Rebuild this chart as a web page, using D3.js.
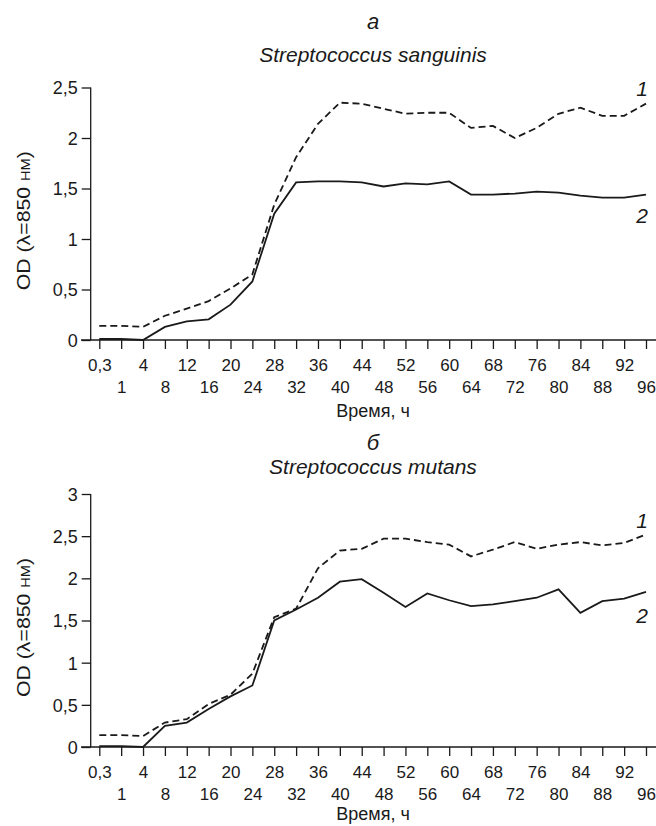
<!DOCTYPE html>
<html><head><meta charset="utf-8">
<script src="https://cdn.jsdelivr.net/npm/d3@7"></script>
<style>
body{margin:0;background:#fff;}
text{font-family:"Liberation Sans",Arial,Helvetica,sans-serif;fill:#1a1a1a;}
</style></head>
<body><svg id="c" width="656" height="826"></svg>
<script>
const categories = ["0,3","1","4","8","12","16","20","24","28","32","36","40","44","48","52","56","60","64","68","72","76","80","84","88","92","96"];
const sanguinis1 = [0.14,0.14,0.13,0.24,0.31,0.385,0.51,0.65,1.34,1.81,2.14,2.35,2.34,2.29,2.24,2.25,2.25,2.10,2.12,2.00,2.10,2.24,2.30,2.22,2.22,2.34];
const sanguinis2 = [0.01,0.01,0.00,0.13,0.185,0.205,0.35,0.58,1.25,1.56,1.57,1.57,1.56,1.52,1.55,1.54,1.57,1.44,1.44,1.45,1.47,1.46,1.43,1.41,1.41,1.44];
const mutans1 = [0.14,0.14,0.13,0.29,0.33,0.51,0.62,0.87,1.54,1.64,2.12,2.33,2.35,2.47,2.47,2.43,2.40,2.26,2.34,2.43,2.35,2.40,2.43,2.39,2.42,2.52];
const mutans2 = [0.01,0.01,0.00,0.25,0.29,0.45,0.60,0.73,1.50,1.63,1.77,1.96,1.99,1.83,1.66,1.82,1.74,1.67,1.69,1.73,1.77,1.87,1.59,1.73,1.76,1.84];
const ticksTop = [0,0.5,1,1.5,2,2.5];
const ticksBottom = [0,0.5,1,1.5,2,2.5,3];
const panelLetters = ["а","б"];
const panelTitles = ["Streptococcus sanguinis","Streptococcus mutans"];
const xTitle = "Время, ч";

const svg = d3.select("#c");
const fmt = v => String(v).replace(".", ",");

const x = d3.scalePoint().domain(categories).range([99.3, 646]);

function panel(cfg){
  const g = svg.append("g");
  const y = d3.scaleLinear().domain([0, cfg.ymax]).range([cfg.y0, cfg.yTop]);
  // titles
  g.append("text").attr("x",373).attr("y",cfg.letterY).attr("text-anchor","middle")
    .attr("font-size",22).attr("font-style","italic").text(cfg.letter);
  g.append("text").attr("x",373).attr("y",cfg.titleY).attr("text-anchor","middle")
    .attr("font-size",21).attr("font-style","italic").text(cfg.title);
  // y axis
  const ya = d3.axisLeft(y).tickValues(cfg.ticks).tickSize(9).tickPadding(4).tickFormat(fmt);
  const yg = g.append("g").attr("transform",`translate(90.7,0)`).call(ya);
  yg.select(".domain").attr("d",`M0,${y(cfg.ymax)}V${y(0)}`).attr("stroke","#1a1a1a").attr("stroke-width",1.3);
  yg.selectAll(".tick line").attr("stroke","#1a1a1a").attr("stroke-width",1.3);
  yg.selectAll(".tick text").attr("font-size",18).attr("dy","0.36em").style("font-family",'"Liberation Sans",Arial,sans-serif').attr("fill","#1a1a1a");
  // x axis
  const xa = d3.axisBottom(x).tickSize(9).tickPadding(0).tickFormat(()=> "");
  const xg = g.append("g").attr("transform",`translate(0,${cfg.y0})`).call(xa);
  xg.select(".domain").attr("d",`M81,0H656`).attr("stroke","#1a1a1a").attr("stroke-width",1.3);
  xg.selectAll(".tick line").attr("stroke","#1a1a1a").attr("stroke-width",1.3);
  xg.selectAll(".tick").append("text")
    .attr("y",(d,i)=> i%2===0 ? 31 : 53)
    .attr("text-anchor","middle").attr("font-size",17).attr("fill","#1a1a1a")
    .style("font-family",'"Liberation Sans",Arial,sans-serif')
    .text(d=>d);
  g.append("text").attr("x",373).attr("y",cfg.y0+cfg.xtOff).attr("text-anchor","middle")
    .attr("font-size",18).text(xTitle);
  // y title
  const yt = g.append("text").attr("transform",`translate(30,${(cfg.y0+cfg.yTop)/2+7}) rotate(-90)`)
    .attr("text-anchor","middle").attr("font-size",19)
    .attr("textLength",139).attr("lengthAdjust","spacingAndGlyphs");
  yt.append("tspan").text("OD (λ=850 ");
  yt.append("tspan").attr("font-size",13).text("НМ");
  yt.append("tspan").text(")");
  // lines
  const line = d3.line().x((d,i)=>x(categories[i])).y(d=>y(d));
  g.append("path").datum(cfg.s1).attr("d",line).attr("fill","none").attr("stroke","#1a1a1a")
    .attr("stroke-width",1.8).attr("stroke-dasharray","7,4");
  g.append("path").datum(cfg.s2).attr("d",line).attr("fill","none").attr("stroke","#1a1a1a")
    .attr("stroke-width",1.8);
  g.append("text").attr("x",642).attr("y",cfg.lab1Y).attr("text-anchor","middle")
    .attr("font-size",21).attr("font-style","italic").text("1");
  g.append("text").attr("x",642).attr("y",cfg.lab2Y).attr("text-anchor","middle")
    .attr("font-size",21).attr("font-style","italic").text("2");
}

panel({letter:panelLetters[0], title:panelTitles[0], letterY:29, titleY:62, ymax:2.5, y0:340, yTop:87.5, ticks:ticksTop, s1:sanguinis1, s2:sanguinis2, lab1Y:96, lab2Y:223, xtOff:77});
panel({letter:panelLetters[1], title:panelTitles[1], letterY:450, titleY:474, ymax:3, y0:747, yTop:494, ticks:ticksBottom, s1:mutans1, s2:mutans2, lab1Y:528, lab2Y:623, xtOff:73});
</script></body></html>
